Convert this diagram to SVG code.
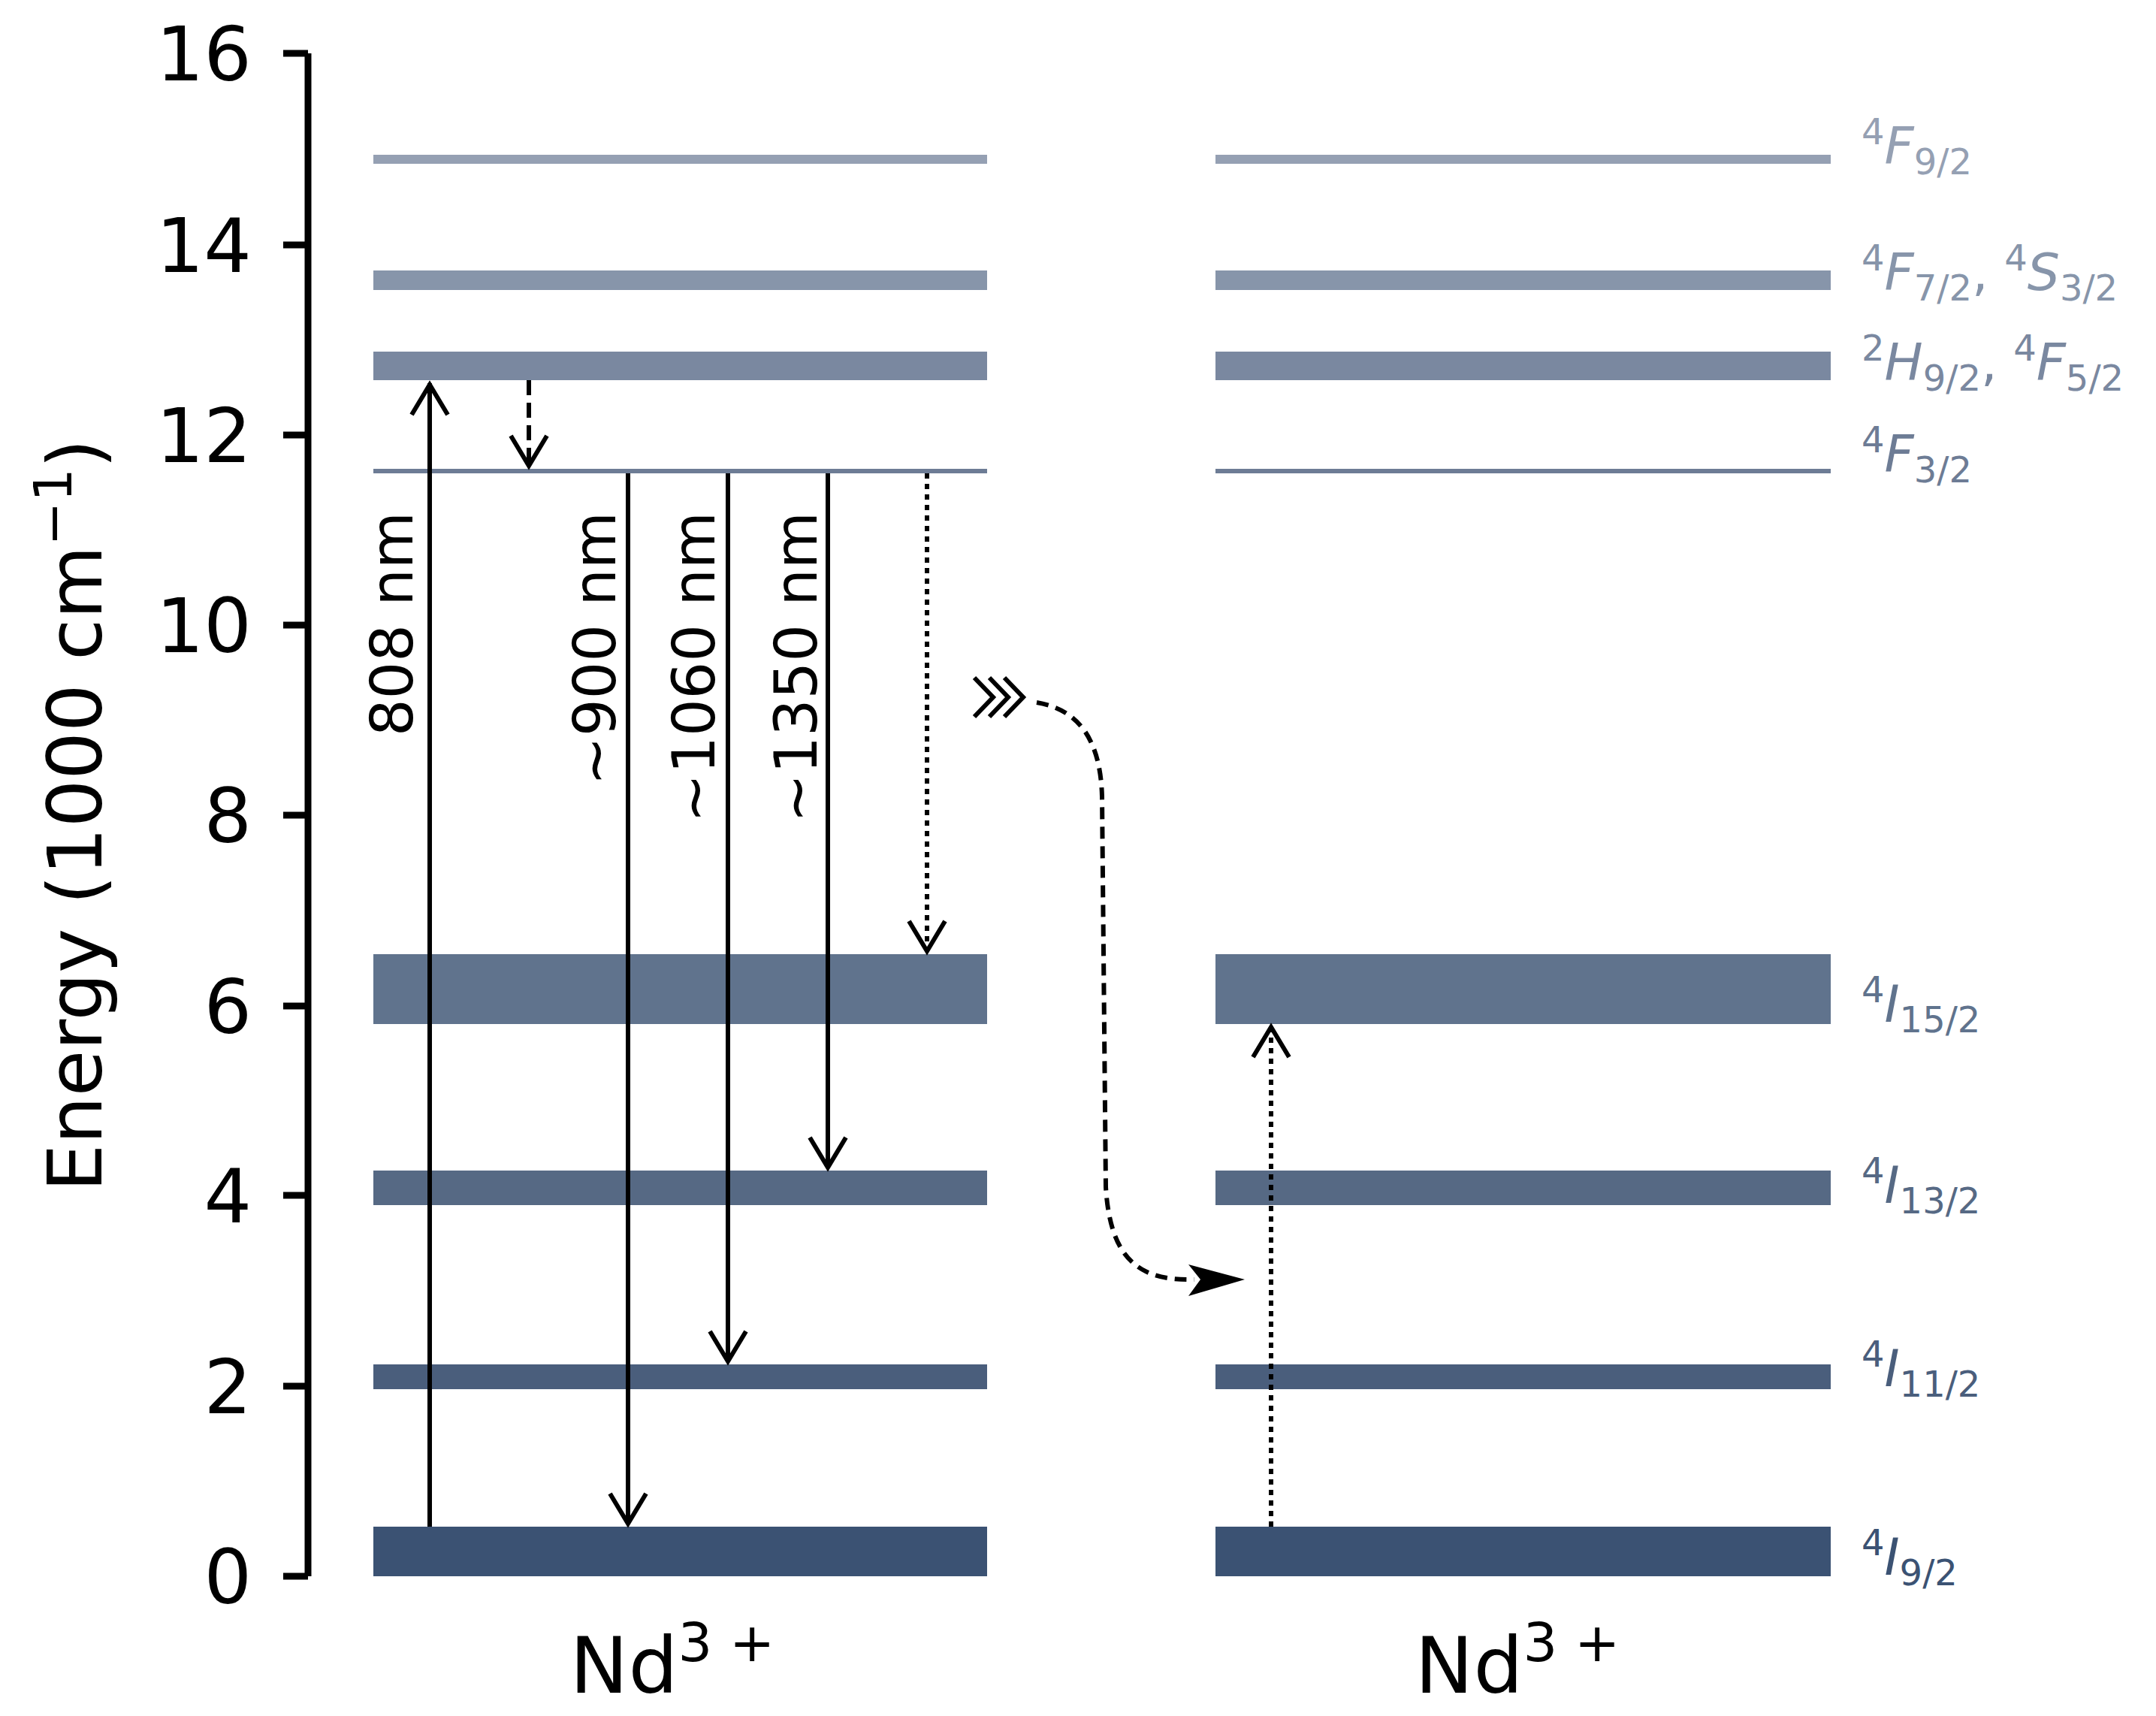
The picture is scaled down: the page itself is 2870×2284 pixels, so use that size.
<svg xmlns="http://www.w3.org/2000/svg" width="2870" height="2284" viewBox="0 0 2870 2284">
<style>
text{font-family:"DejaVu Sans",sans-serif}
.tick{font-size:100px;text-anchor:end}
.ax{stroke:#000;stroke-width:9;fill:none}
.arr{stroke:#000;stroke-width:6;fill:none}
.wl{font-size:78px;text-anchor:end}
.lv{font-size:68px;font-style:italic}
.sub{font-size:48px;font-style:normal}
.sup{font-size:48px;font-style:normal}
.nd{font-size:104px;text-anchor:middle}
</style>
<g id="axis">
<path class="ax" d="M410,71V2098"/>
<path class="ax" d="M377,71H410M377,326H410M377,579H410M377,832H410M377,1085H410M377,1339H410M377,1591H410M377,1845H410M377,2098H410"/>
<text class="tick" x="335" y="107">16</text>
<text class="tick" x="335" y="362">14</text>
<text class="tick" x="335" y="615">12</text>
<text class="tick" x="335" y="868">10</text>
<text class="tick" x="335" y="1121">8</text>
<text class="tick" x="335" y="1375">6</text>
<text class="tick" x="335" y="1627">4</text>
<text class="tick" x="335" y="1881">2</text>
<text class="tick" x="335" y="2134">0</text>
<text transform="translate(135,1085) rotate(-90)" text-anchor="middle" font-size="100">Energy (1000 cm<tspan dy="-40" font-size="70">−1</tspan><tspan dy="40">)</tspan></text>
</g>
<g id="levels-left">
<rect x="497" y="206" width="817" height="12" fill="#95a0b3"/>
<rect x="497" y="360" width="817" height="26" fill="#8795aa"/>
<rect x="497" y="468" width="817" height="38" fill="#7a88a0"/>
<rect x="497" y="624" width="817" height="6" fill="#6d7c95"/>
<rect x="497" y="1270" width="817" height="93" fill="#60738d"/>
<rect x="497" y="1558" width="817" height="46" fill="#566984"/>
<rect x="497" y="1816" width="817" height="33" fill="#4a5e7c"/>
<rect x="497" y="2032" width="817" height="66" fill="#3b5273"/>
</g>
<g id="levels-right">
<rect x="1618" y="206" width="819" height="12" fill="#95a0b3"/>
<rect x="1618" y="360" width="819" height="26" fill="#8795aa"/>
<rect x="1618" y="468" width="819" height="38" fill="#7a88a0"/>
<rect x="1618" y="624" width="819" height="6" fill="#6d7c95"/>
<rect x="1618" y="1270" width="819" height="93" fill="#60738d"/>
<rect x="1618" y="1558" width="819" height="46" fill="#566984"/>
<rect x="1618" y="1816" width="819" height="33" fill="#4a5e7c"/>
<rect x="1618" y="2032" width="819" height="66" fill="#3b5273"/>
</g>
<g id="level-labels">
<text class="lv" x="2478" y="218" fill="#95a0b3"><tspan class="sup" dy="-26">4</tspan><tspan dy="26">F</tspan><tspan class="sub" dy="14">9/2</tspan></text>
<text class="lv" x="2478" y="386" fill="#8795aa"><tspan class="sup" dy="-26">4</tspan><tspan dy="26">F</tspan><tspan class="sub" dy="14">7/2</tspan><tspan dy="-14" font-style="normal">, </tspan><tspan class="sup" dy="-26">4</tspan><tspan dy="26">S</tspan><tspan class="sub" dy="14">3/2</tspan></text>
<text class="lv" x="2478" y="506" fill="#7a88a0"><tspan class="sup" dy="-26">2</tspan><tspan dy="26">H</tspan><tspan class="sub" dy="14">9/2</tspan><tspan dy="-14" font-style="normal">, </tspan><tspan class="sup" dy="-26">4</tspan><tspan dy="26">F</tspan><tspan class="sub" dy="14">5/2</tspan></text>
<text class="lv" x="2478" y="628" fill="#6d7c95"><tspan class="sup" dy="-26">4</tspan><tspan dy="26">F</tspan><tspan class="sub" dy="14">3/2</tspan></text>
<text class="lv" x="2478" y="1360" fill="#60738d"><tspan class="sup" dy="-26">4</tspan><tspan dy="26">I</tspan><tspan class="sub" dy="14">15/2</tspan></text>
<text class="lv" x="2478" y="1601" fill="#566984"><tspan class="sup" dy="-26">4</tspan><tspan dy="26">I</tspan><tspan class="sub" dy="14">13/2</tspan></text>
<text class="lv" x="2478" y="1845" fill="#4a5e7c"><tspan class="sup" dy="-26">4</tspan><tspan dy="26">I</tspan><tspan class="sub" dy="14">11/2</tspan></text>
<text class="lv" x="2478" y="2096" fill="#3b5273"><tspan class="sup" dy="-26">4</tspan><tspan dy="26">I</tspan><tspan class="sub" dy="14">9/2</tspan></text>
</g>
<g id="ion-labels">
<text class="nd" x="895" y="2253">Nd<tspan font-size="72" dy="-42">3 +</tspan></text>
<text class="nd" x="2020" y="2253">Nd<tspan font-size="72" dy="-42">3 +</tspan></text>
</g>
<g id="connectors">
<path class="arr" d="M572,2032V510M548,552L572,512L596,552"/>
<path class="arr" d="M704,506V620" stroke-dasharray="20,10"/>
<path class="arr" d="M680,580L704,620L728,580"/>
<path class="arr" d="M836,630V2028M812,1988L836,2028L860,1988"/>
<path class="arr" d="M969,630V1812M945,1772L969,1812L993,1772"/>
<path class="arr" d="M1102,630V1554M1078,1514L1102,1554L1126,1514"/>
<path class="arr" d="M1234,630V1266" stroke-dasharray="7,7"/>
<path class="arr" d="M1210,1226L1234,1266L1258,1226"/>
<path class="arr" d="M1692,2032V1367" stroke-dasharray="7,7"/>
<path class="arr" d="M1668,1407L1692,1367L1716,1407"/>
<path class="arr" d="M1297,902L1322,928L1297,954M1317,902L1342,928L1317,954M1337,902L1362,928L1337,954" stroke-width="8"/>
<path class="arr" d="M1380,935C1440,945 1465,990 1467,1060L1472,1580C1478,1680 1520,1705 1590,1703" stroke-dasharray="16,10"/>
<path d="M1582,1683L1657,1703L1582,1725L1598,1703Z" fill="#000"/>
<text class="wl" transform="translate(549,681) rotate(-90)">808 nm</text>
<text class="wl" transform="translate(819,681) rotate(-90)">~900 nm</text>
<text class="wl" transform="translate(951,681) rotate(-90)">~1060 nm</text>
<text class="wl" transform="translate(1087,681) rotate(-90)">~1350 nm</text>
</g>
</svg>
